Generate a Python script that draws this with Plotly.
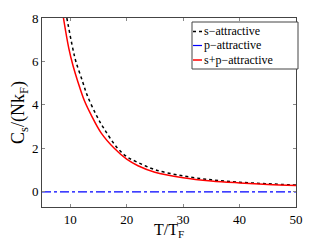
import plotly.graph_objects as go

# Data
t_s = [9.4, 10.45, 11, 12.2, 13, 14.6, 16, 18.4, 20, 22, 25, 30, 35, 40, 45, 50]
c_s = [8.0, 6.6, 6.0, 5.07, 4.45, 3.54, 2.9, 2.0, 1.62, 1.35, 1.02, 0.73, 0.55, 0.44, 0.37, 0.31]

t_p = [5, 50]
c_p = [0.0, 0.0]

t_sp = [8.8, 9.75, 10.5, 11.35, 12.5, 13.7, 15.5, 17.8, 20, 22, 25, 30, 35, 40, 45, 50]
c_sp = [8.0, 6.6, 5.8, 5.07, 4.2, 3.54, 2.7, 2.0, 1.5, 1.2, 0.9, 0.65, 0.5, 0.41, 0.34, 0.29]

series_names = ["s\u2212attractive", "p\u2212attractive", "s+p\u2212attractive"]

x_ticks = [10, 20, 30, 40, 50]
y_ticks = [0, 2, 4, 6, 8]

FONT = "Liberation Serif, DejaVu Serif, serif"

styles = [
    dict(color="black", width=1.5, dash="3px,3px"),
    dict(color="#0000ff", width=1.2, dash="dashdot"),
    dict(color="#ff0000", width=1.5, dash="solid"),
]

fig = go.Figure()
fig.add_trace(go.Scatter(x=t_s, y=c_s, mode="lines", name=series_names[0],
                         line=dict(**styles[0], shape="spline")))
fig.add_trace(go.Scatter(x=t_p, y=c_p, mode="lines", name=series_names[1],
                         line=dict(**styles[1])))
fig.add_trace(go.Scatter(x=t_sp, y=c_sp, mode="lines", name=series_names[2],
                         line=dict(**styles[2], shape="spline")))

axis_common = dict(showgrid=False, zeroline=False, showline=True, linecolor="#444444",
                   linewidth=1, mirror="allticks", ticks="inside", ticklen=3,
                   tickcolor="#888888", tickfont=dict(family=FONT, size=13, color="black"))

fig.update_xaxes(range=[5, 50], tickvals=x_ticks, **axis_common)
fig.update_yaxes(range=[-0.7, 8], tickvals=y_ticks,
                 title=dict(text="C<sub>s</sub>/(Nk<sub>F</sub>)",
                            font=dict(family=FONT, size=18, color="black"), standoff=2),
                 **axis_common)

# Plot area in pixels: x 42..296, y 18..207
W, H = 327, 246
L, R, T, B = 42, 31, 18, 39
pw, ph = W - L - R, H - T - B


def px(x):
    return (x - L) / pw


def py(y):
    return 1 - (y - T) / ph


# x-axis title as annotation
fig.add_annotation(x=0.5, y=py(219), xref="paper", yref="paper", text="T/T<sub>F</sub>",
                   showarrow=False, xanchor="center", yanchor="top",
                   font=dict(family=FONT, size=16, color="black"))

# Legend (box, samples, labels)
fig.add_shape(type="rect", xref="paper", yref="paper", x0=px(192), x1=px(298),
              y0=py(69), y1=py(22), line=dict(color="#444444", width=1),
              fillcolor="white", layer="above")
rows = [31.5, 45.5, 60]
for name, st, yy in zip(series_names, styles, rows):
    fig.add_shape(type="line", xref="paper", yref="paper", x0=px(193), x1=px(202),
                  y0=py(yy), y1=py(yy), line=dict(color=st["color"], width=st["width"],
                                                  dash=st["dash"]), layer="above")
    fig.add_annotation(x=px(202), y=py(yy), xref="paper", yref="paper", text=name,
                       showarrow=False, xanchor="left", yanchor="middle",
                       font=dict(family=FONT, size=12, color="black"))

fig.update_layout(
    width=W, height=H,
    margin=dict(l=L, r=R, t=T, b=B),
    paper_bgcolor="white", plot_bgcolor="white",
    font=dict(family=FONT, color="black"),
    showlegend=False,
)

fig.write_html("out.html", config={"displayModeBar": False},
               post_script="document.body.style.margin='0';document.body.style.overflow='hidden';")
